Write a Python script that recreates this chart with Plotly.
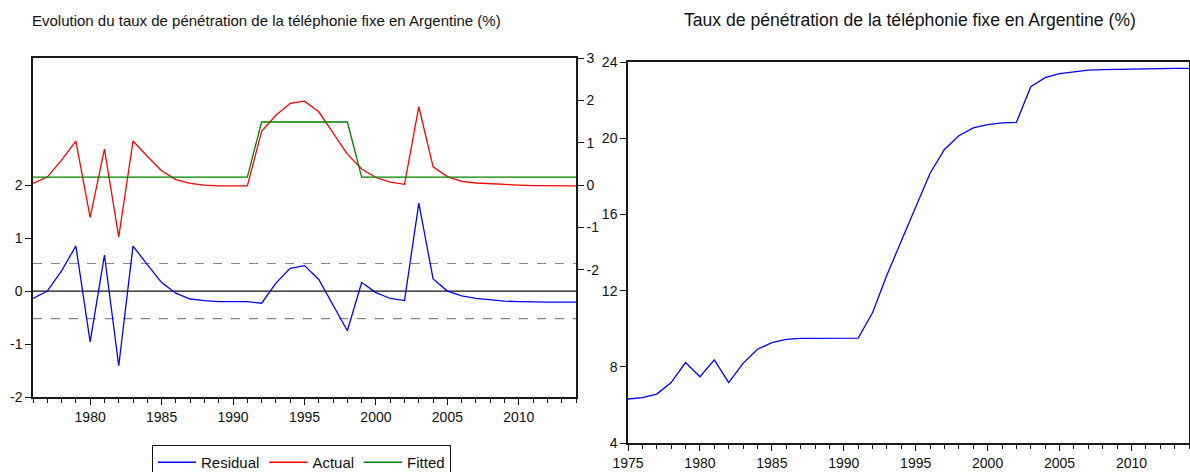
import plotly.graph_objects as go

W, H = 1190, 472

years_left = list(range(1976, 2015))
residual = [-0.14, 0.00, 0.38, 0.85, -0.96, 0.68, -1.41, 0.85, 0.50, 0.16,
            -0.04, -0.15, -0.18, -0.20, -0.20, -0.20, -0.23, 0.15, 0.43, 0.48,
            0.22, -0.26, -0.75, 0.16, -0.03, -0.14, -0.18, 1.66, 0.23, 0.00,
            -0.09, -0.14, -0.17, -0.19, -0.20, -0.21, -0.21, -0.21, -0.21]
actual = [0.04, 0.19, 0.59, 1.04, -0.76, 0.85, -1.22, 1.04, 0.68, 0.34,
          0.13, 0.04, 0.00, -0.02, -0.02, -0.02, 1.27, 1.65, 1.93, 1.98,
          1.73, 1.22, 0.73, 0.38, 0.18, 0.07, 0.02, 1.85, 0.43, 0.20,
          0.09, 0.05, 0.03, 0.01, 0.00, -0.01, -0.01, -0.02, -0.02]
fitted = [0.19] * 16 + [1.49] * 7 + [0.19] * 16

years_right = list(range(1975, 2015))
penetration = [6.31, 6.38, 6.57, 7.17, 8.22, 7.48, 8.36, 7.17, 8.18, 8.92,
               9.27, 9.44, 9.49, 9.50, 9.51, 9.51, 9.51, 10.84, 12.82, 14.6,
               16.4, 18.16, 19.41, 20.13, 20.54, 20.71, 20.80, 20.83, 22.70, 23.18,
               23.39, 23.50, 23.57, 23.60, 23.62, 23.64, 23.65, 23.66, 23.67, 23.67]

resid_ticks = [-2, -1, 0, 1, 2]
fit_ticks = [-2, -1, 0, 1, 2, 3]
pen_ticks = [4, 8, 12, 16, 20, 24]
band = 0.52
title_left = "Evolution du taux de pénétration de la téléphonie fixe en Argentine (%)"
title_right = "Taux de pénétration de la téléphonie fixe en Argentine (%)"

FONT = "Liberation Sans, Arial, sans-serif"
AX = "#1a1a1a"

def px_x(p):
    return p / W

def px_y(p):
    return (H - p) / H

def labels(vals):
    return [str(v) for v in vals]

fig = go.Figure()
fig.add_trace(go.Scatter(x=years_left, y=residual, name="Residual", mode="lines",
                         line=dict(color="#0000FF", width=1.3), xaxis="x", yaxis="y"))
fig.add_trace(go.Scatter(x=years_left, y=actual, name="Actual", mode="lines",
                         line=dict(color="#FF0000", width=1.3), xaxis="x", yaxis="y2"))
fig.add_trace(go.Scatter(x=years_left, y=fitted, name="Fitted", mode="lines",
                         line=dict(color="#008000", width=1.3), xaxis="x", yaxis="y2"))
fig.add_trace(go.Scatter(x=years_right, y=penetration, name="Taux", mode="lines",
                         showlegend=False,
                         line=dict(color="#0000FF", width=1.3), xaxis="x2", yaxis="y3"))

common_x = dict(showgrid=False, zeroline=False, showline=True, linecolor=AX, linewidth=1.5,
                mirror=True, ticks="outside", ticklen=6, tickcolor=AX, dtick=5,
                automargin=False, tickfont=dict(size=14, color="#111"),
                minor=dict(dtick=1, ticks="outside", ticklen=4, tickcolor=AX))
common_y = dict(showgrid=False, zeroline=False, showline=True, linecolor=AX, linewidth=1.5,
                ticks="outside", ticklen=6, tickcolor=AX, automargin=False,
                tickfont=dict(size=14, color="#111"))

fig.update_layout(
    width=W, height=H,
    margin=dict(l=0, r=0, t=0, b=0, pad=0, autoexpand=False),
    paper_bgcolor="white", plot_bgcolor="white",
    font=dict(family=FONT, size=14, color="#111"),
    xaxis=dict(common_x, domain=[px_x(33), px_x(576)], range=[1976, 2014],
               tick0=1980, anchor="y"),
    yaxis=dict(common_y, domain=[px_y(397), px_y(58)], range=[-2, 4.4],
               tickvals=resid_ticks, ticktext=labels(resid_ticks), mirror=True, anchor="x"),
    yaxis2=dict(common_y, overlaying="y", side="right", anchor="x", range=[-5, 3],
                tickvals=fit_ticks, ticktext=labels(fit_ticks)),
    xaxis2=dict(common_x, domain=[px_x(628), px_x(1189)], range=[1975, 2014],
                tick0=1975, anchor="y3"),
    yaxis3=dict(common_y, domain=[px_y(443), px_y(62)], range=[4, 24],
                tickvals=pen_ticks, ticktext=labels(pen_ticks), mirror=True, anchor="x2"),
    legend=dict(orientation="h", x=px_x(152), y=px_y(445), xanchor="left", yanchor="top",
                bordercolor="#111", borderwidth=1, bgcolor="white",
                font=dict(size=15, color="#111"), itemwidth=38, tracegroupgap=0),
    showlegend=True,
)

fig.add_shape(type="line", xref="x domain", yref="y", x0=0, x1=1, y0=0, y1=0,
              line=dict(color="#111", width=1.2), layer="below")
for v in (band, -band):
    fig.add_shape(type="line", xref="x domain", yref="y", x0=0, x1=1, y0=v, y1=v,
                  line=dict(color="#888", width=1.2, dash="dash"), layer="below")

fig.add_annotation(text=title_left, xref="paper", yref="paper", x=px_x(30), y=px_y(21),
                   xanchor="left", yanchor="middle", showarrow=False,
                   font=dict(size=15, color="#111"))
fig.add_annotation(text=title_right, xref="paper", yref="paper", x=px_x(682), y=px_y(20),
                   xanchor="left", yanchor="middle", showarrow=False,
                   font=dict(size=17.6, color="#111"))

fig.write_html("out.html", config={"displayModeBar": False},
               post_script="document.body.style.margin='0';")
